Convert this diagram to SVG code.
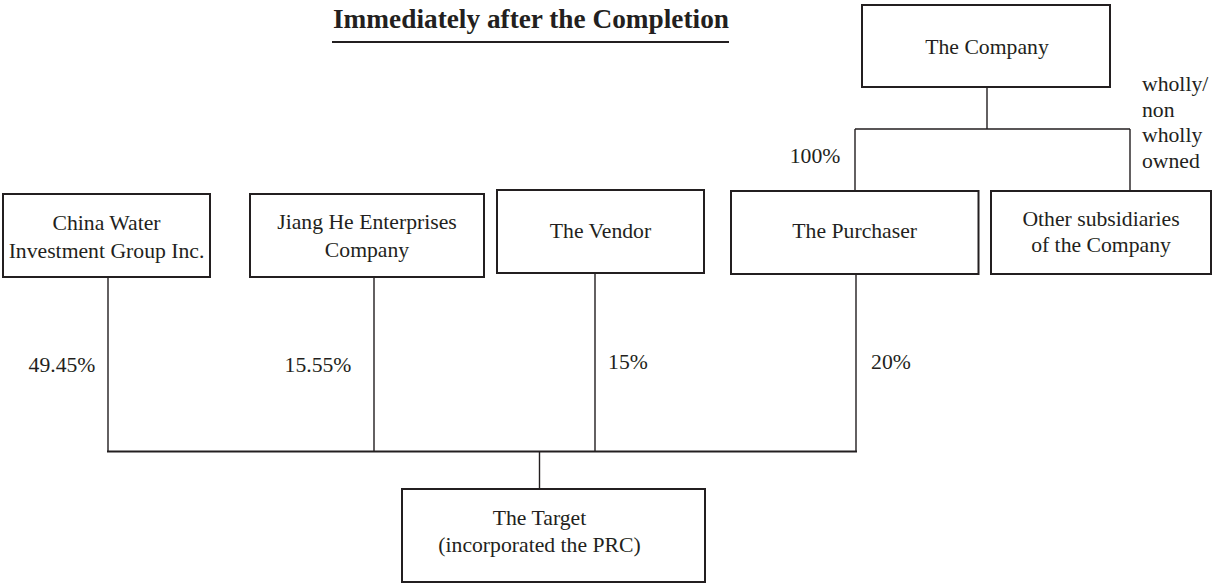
<svg xmlns="http://www.w3.org/2000/svg" width="1213" height="584" viewBox="0 0 1213 584">
<style>
.box{fill:#fff;stroke:#231f20;stroke-width:2}
.t{font-family:"Liberation Serif","Times New Roman",serif;font-size:21.7px;fill:#231f20;text-anchor:middle}
.l{font-family:"Liberation Serif","Times New Roman",serif;font-size:21.7px;fill:#231f20}
.title{font-family:"Liberation Serif","Times New Roman",serif;font-size:27.3px;font-weight:bold;fill:#231f20;text-anchor:middle}
.c{fill:none;stroke:#231f20;stroke-width:1.4}
</style>
<rect width="1213" height="584" fill="#fff"/>
<g id="title">
<text class="title" x="531" y="28">Immediately after the Completion</text>
<line x1="332" y1="42" x2="729" y2="42" stroke="#231f20" stroke-width="2"/>
</g>
<g id="connectors">
<path class="c" d="M987 87V129M855 129H1130M855 129V191M1130 129V191"/>
<path class="c" d="M108 277V451.5M374 277V451.5M595 273V451.5M856 274V451.5M539.5 451.5V489"/>
<line x1="107" y1="451.5" x2="857" y2="451.5" stroke="#231f20" stroke-width="2.2"/>
</g>
<g id="labels">
<text class="t" x="815" y="163">100%</text>
<text class="l" x="1142" y="91">wholly/</text>
<text class="l" x="1142" y="116.5">non</text>
<text class="l" x="1142" y="142">wholly</text>
<text class="l" x="1142" y="167.5">owned</text>
<text class="t" x="62" y="372">49.45%</text>
<text class="t" x="318" y="372">15.55%</text>
<text class="t" x="628" y="369">15%</text>
<text class="t" x="891" y="369">20%</text>
</g>
<g id="company">
<rect class="box" x="862" y="5" width="248" height="82"/>
<text class="t" x="987" y="54">The Company</text>
</g>
<g id="china-water">
<rect class="box" x="3" y="194" width="207" height="83"/>
<text class="t" x="106.5" y="230">China Water</text>
<text class="t" x="106.5" y="257.5">Investment Group Inc.</text>
</g>
<g id="jiang-he">
<rect class="box" x="250" y="194" width="234" height="83"/>
<text class="t" x="367" y="229">Jiang He Enterprises</text>
<text class="t" x="367" y="256.5">Company</text>
</g>
<g id="vendor">
<rect class="box" x="497" y="190" width="207" height="83"/>
<text class="t" x="600.5" y="238">The Vendor</text>
</g>
<g id="purchaser">
<rect class="box" x="731" y="191" width="247.5" height="83"/>
<text class="t" x="854.7" y="238">The Purchaser</text>
</g>
<g id="other-subsidiaries">
<rect class="box" x="991" y="191" width="220" height="83"/>
<text class="t" x="1101" y="226">Other subsidiaries</text>
<text class="t" x="1101" y="252">of the Company</text>
</g>
<g id="target">
<rect class="box" x="402" y="489" width="303" height="93"/>
<text class="t" x="539.5" y="525">The Target</text>
<text class="t" x="539.5" y="552">(incorporated the PRC)</text>
</g>
</svg>
